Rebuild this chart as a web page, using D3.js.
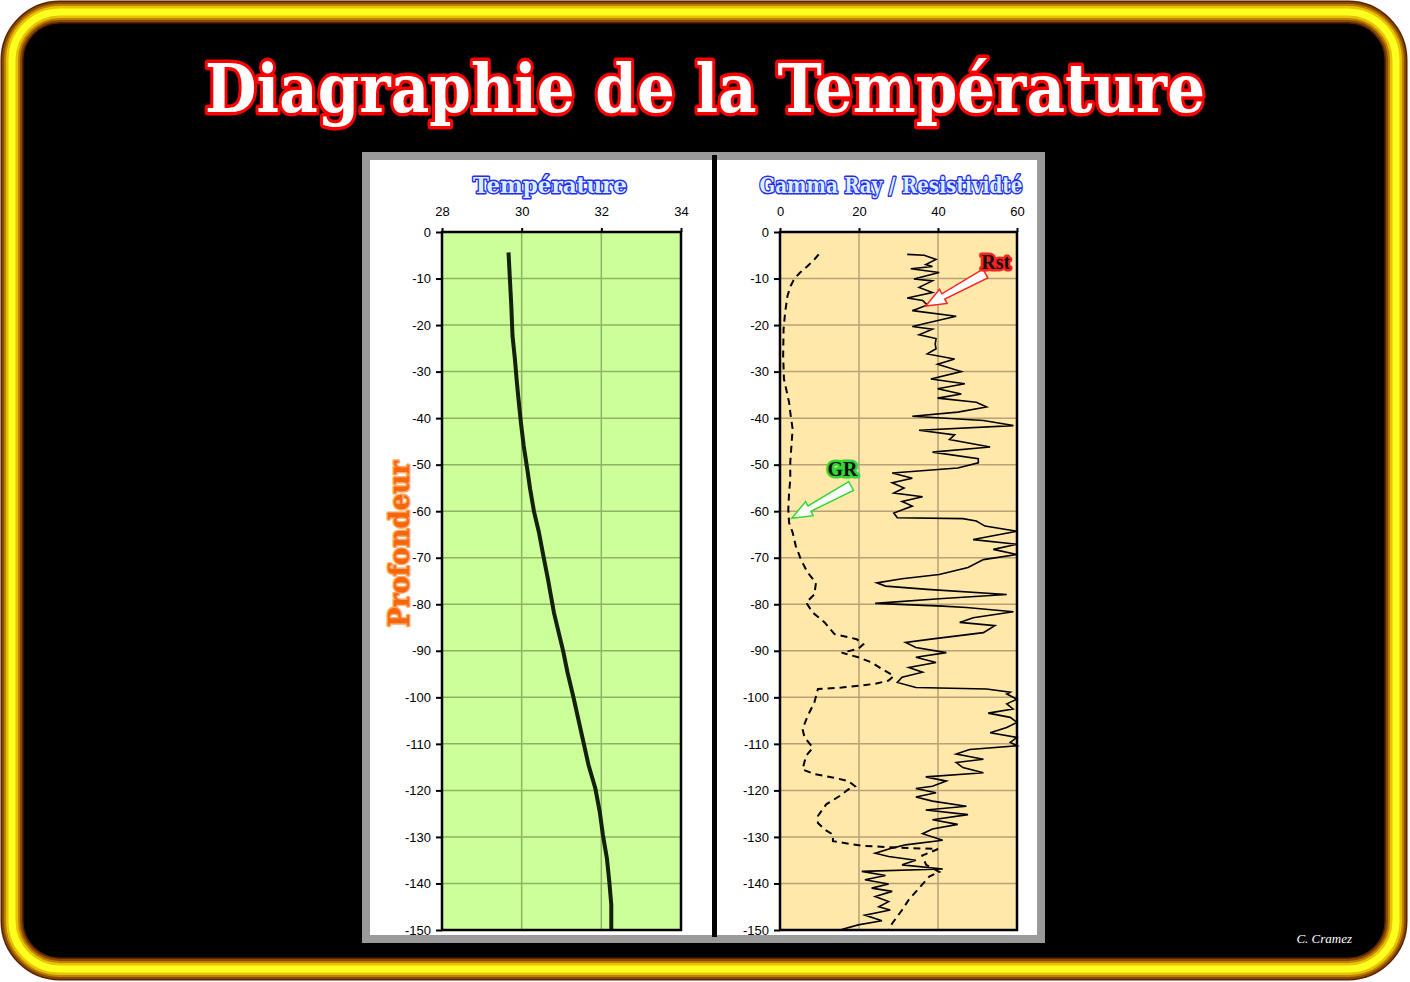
<!DOCTYPE html>
<html>
<head>
<meta charset="utf-8">
<script src="https://cdn.jsdelivr.net/npm/d3@7"></script>
<style>
  body { margin: 0; background: #fff; }
  svg { display: block; }
</style>
</head>
<body>
<svg width="1410" height="982"></svg>
<script>
// temperature log (depth m, temperature C)
var tempDepth = [-4.4, -9.4, -15.9, -22.3, -27.3, -32.3, -35.9, -40.9, -45.9, -50.9, -55.1, -60.1, -64.4, -69.4,
  -74.6, -77.5, -81.8, -86.1, -90, -94.6, -100, -104.6, -109.6, -114.6, -119.6, -124.6, -129.6, -134.6,
  -139.6, -144.6, -149.8];
var tempValue = [29.67, 29.70, 29.74, 29.77, 29.83, 29.88, 29.92, 29.98, 30.05, 30.14, 30.21, 30.31, 30.43, 30.54,
  30.66, 30.72, 30.81, 30.93, 31.04, 31.15, 31.30, 31.42, 31.55, 31.68, 31.85, 31.96, 32.04, 32.14,
  32.20, 32.25, 32.25];

// resistivity log
var rstDepth = [-4.8, -5.0, -5.9, -7.0, -7.4, -7.9, -8.7, -10.1, -10.5, -11.9, -13.0, -14.2, -14.7, -15.7, -16.9,
  -18.1, -19.3, -20.3, -20.9, -22.1, -22.9, -24.1, -25.1, -26.2, -27.3, -28.4, -30.0, -31.6, -32.6, -33.7,
  -34.8, -35.7, -36.6, -37.6, -38.7, -39.6, -40.5, -41.6, -42.6, -43.6, -44.6, -46.2, -47.3, -48.7, -49.6,
  -50.7, -51.8, -52.9, -53.9, -55.0, -56.1, -56.9, -57.9, -58.9, -60.4, -61.4, -61.6, -62.1, -63.2, -64.3,
  -66.1, -67.1, -68.2, -69.3, -70.4, -72.1, -73.6, -74.5, -75.4, -76.1, -76.8, -77.9, -78.8, -79.8, -80.4,
  -80.7, -81.6, -82.9, -83.9, -84.6, -86.1, -87.5, -88.2, -89.3, -90.4, -91.4, -92.5, -93.6, -94.6, -95.7,
  -96.8, -97.9, -98.2, -98.9, -99.3, -100.4, -101.4, -102.5, -103.4, -104.3, -105.4, -106.5, -107.6, -108.6,
  -109.7, -110.4, -111.2, -112.2, -113.3, -114.0, -115.1, -116.2, -117.1, -118.0, -119.1, -119.6, -120.5,
  -121.4, -122.3, -123.4, -124.2, -125.2, -126.3, -127.3, -128.3, -129.3, -130.7, -131.7, -132.4, -133.5,
  -134.2, -135.0, -136.0, -136.9, -137.4, -138.3, -139.2, -140.1, -141.0, -141.7, -142.8, -143.9, -145.0,
  -145.7, -146.8, -148.0, -148.9, -149.9];
var rstValue = [32.2, 36.5, 39.5, 36.9, 38.6, 33.1, 40.3, 33.9, 38.6, 35.2, 38.6, 32.2, 36.1, 37.3, 33.5,
  44.6, 38.6, 33.5, 38.6, 35.2, 39.5, 39.3, 39.5, 37.3, 44.2, 39.9, 45.9, 38.2, 46.8, 39.9,
  45.9, 39.9, 49.7, 52.3, 45.0, 33.5, 51.5, 59.1, 35.2, 44.2, 42.9, 53.2, 38.6, 50.2, 50.2,
  45.0, 28.4, 33.5, 28.4, 31.4, 28.8, 36.1, 30.9, 33.5, 28.8, 29.7, 46.3, 49.7, 51.9, 60.0,
  48.9, 60.0, 54.0, 60.0, 51.5, 47.6, 40.3, 30.9, 24.5, 26.7, 37.3, 57.4, 40.3, 24.1, 41.2,
  47.2, 59.1, 48.9, 45.5, 54.4, 51.5, 38.2, 31.8, 34.4, 42.1, 34.4, 39.5, 32.6, 36.1, 30.9,
  29.7, 34.4, 52.3, 58.3, 57.4, 60.0, 57.4, 59.0, 52.7, 58.3, 60.0, 57.4, 53.2, 60.0,
  58.3, 60.0, 48.0, 44.6, 51.5, 44.6, 46.3, 51.5, 36.9, 42.1, 38.6, 34.4, 39.5,
  34.4, 38.6, 47.2, 36.9, 47.6, 38.6, 45.0, 38.6, 36.1, 41.2, 31.8, 28.4, 24.1,
  27.5, 34.4, 30.9, 41.2, 20.7, 26.7, 21.5, 27.5, 23.2, 28.4, 24.1, 27.5, 25.0,
  27.9, 21.5, 25.8, 19.8, 15.6];

// gamma ray log
var grDepth = [-4.8, -5.9, -7.3, -8.7, -10.1, -11.6, -13.7, -17.3, -20.9, -26.6, -31.6, -36.6, -39.4, -42.3,
  -45.9, -49.4, -53.2, -56.1, -59.6, -62.5, -64.6, -67.5, -70.4, -73.2, -75.4, -77.9, -79.6, -81.8, -83.9,
  -86.4, -87.5, -88.6, -89.6, -90.4, -91.4, -92.5, -93.9, -95.4, -96.4, -97.1, -97.9, -98.2, -101.1, -104.0,
  -106.8, -108.6, -110.8, -112.6, -115.5, -116.5, -117.3, -118.0, -119.1, -119.8, -121.2, -123.0, -125.5,
  -127.0, -128.4, -129.5, -130.9, -131.9, -132.3, -132.6, -134.0, -136.0, -137.5, -138.5, -141.0, -143.5,
  -145.7, -148.6, -149.9];
var grValue = [9.8, 8.7, 7.0, 5.1, 3.6, 2.7, 1.9, 1.3, 0.9, 0.8, 1.0, 2.3, 2.7, 3.2,
  2.9, 2.6, 2.6, 2.3, 2.1, 2.3, 3.2, 4.0, 5.3, 7.0, 9.1, 8.7, 6.6, 8.3, 11.3,
  13.8, 19.4, 21.1, 19.8, 15.6, 19.8, 23.2, 25.8, 28.8, 27.5, 24.1, 15.6, 9.6, 8.7, 7.0,
  5.7, 6.2, 8.3, 6.6, 5.7, 8.7, 13.8, 17.3, 19.0, 17.3, 15.1, 11.7, 9.6,
  9.6, 11.3, 13.4, 13.4, 20.7, 30.0, 40.0, 36.0, 37.0, 40.3, 37.8, 35.2, 32.6,
  30.9, 28.4, 27.5];

var tempTicks = [28, 30, 32, 34];
var logTicks = [0, 20, 40, 60];
var depthTicks = [0, -10, -20, -30, -40, -50, -60, -70, -80, -90, -100, -110, -120, -130, -140, -150];

var svg = d3.select("svg");

// ---- frame
var defs = svg.append("defs");
var rings = [
  {w: 23, c: "#5a2400"}, {w: 20, c: "#8a4a00"}, {w: 16, c: "#c08000"},
  {w: 12, c: "#e8c400"}, {w: 7, c: "#ffff20"}
];
svg.append("rect")
    .attr("x", 12).attr("y", 12).attr("width", 1384).attr("height", 957)
    .attr("rx", 48).attr("fill", "#000");
rings.forEach(function(r) {
  svg.append("rect")
      .attr("x", 12).attr("y", 12).attr("width", 1384).attr("height", 957)
      .attr("rx", 48).attr("fill", "none")
      .attr("stroke", r.c).attr("stroke-width", r.w);
});

svg.append("text")
    .attr("x", 705).attr("y", 112)
    .attr("text-anchor", "middle")
    .attr("font-family", "DejaVu Serif")
    .attr("font-weight", "bold")
    .attr("font-size", 68)
    .attr("textLength", 1000)
    .attr("lengthAdjust", "spacingAndGlyphs")
    .attr("fill", "#fff")
    .attr("stroke", "#ff0000")
    .attr("stroke-width", 7)
    .attr("stroke-linejoin", "round")
    .attr("paint-order", "stroke")
    .text("Diagraphie de la Température");

svg.append("text")
    .attr("x", 1352).attr("y", 943)
    .attr("text-anchor", "end")
    .attr("font-family", "Liberation Serif")
    .attr("font-style", "italic")
    .attr("font-size", 13)
    .attr("fill", "#fff")
    .text("C. Cramez");

// ---- chart panel
svg.append("rect")
    .attr("x", 366).attr("y", 156).attr("width", 675).attr("height", 783)
    .attr("fill", "#fff").attr("stroke", "#9a9a9a").attr("stroke-width", 8);
svg.append("rect")
    .attr("x", 712).attr("y", 155).attr("width", 5).attr("height", 782)
    .attr("fill", "#000");

var y = d3.scaleLinear().domain([0, -150]).range([232, 930]);
var xT = d3.scaleLinear().domain([28, 34]).range([442, 681]);
var xR = d3.scaleLinear().domain([0, 60]).range([780, 1017]);

function track(x, ticks, gridX, bg, gridColor) {
  var g = svg.append("g");
  g.append("rect")
      .attr("x", x.range()[0]).attr("y", y.range()[0])
      .attr("width", x.range()[1] - x.range()[0])
      .attr("height", y.range()[1] - y.range()[0])
      .attr("fill", bg);
  g.selectAll(".hgrid")
    .data(depthTicks.slice(1, -1))
    .enter().append("line")
      .attr("x1", x.range()[0]).attr("x2", x.range()[1])
      .attr("y1", function(d) { return y(d); })
      .attr("y2", function(d) { return y(d); })
      .attr("stroke", gridColor).attr("stroke-width", 1.5);
  g.selectAll(".vgrid")
    .data(gridX)
    .enter().append("line")
      .attr("x1", function(d) { return x(d); })
      .attr("x2", function(d) { return x(d); })
      .attr("y1", y.range()[0]).attr("y2", y.range()[1])
      .attr("stroke", gridColor).attr("stroke-width", 1.5);

  var top = g.append("g")
      .attr("transform", "translate(0," + y.range()[0] + ")")
      .call(d3.axisTop(x).tickValues(ticks).tickSize(4).tickPadding(12).tickFormat(d3.format("d")));
  var left = g.append("g")
      .attr("transform", "translate(" + x.range()[0] + ",0)")
      .call(d3.axisLeft(y).tickValues(depthTicks).tickSize(6).tickPadding(5)
        .tickFormat(function(d) { return String(d); }));
  [top, left].forEach(function(a) {
    a.selectAll("text")
        .attr("font-family", "Liberation Sans")
        .attr("font-size", 13)
        .attr("fill", "#000");
    a.selectAll("line").attr("stroke", "#000").attr("stroke-width", 2);
    a.select(".domain").attr("stroke", "none");
  });
  return g;
}

function frameTrack(x) {
  svg.append("rect")
      .attr("x", x.range()[0]).attr("y", y.range()[0])
      .attr("width", x.range()[1] - x.range()[0])
      .attr("height", y.range()[1] - y.range()[0])
      .attr("fill", "none").attr("stroke", "#000").attr("stroke-width", 2.5);
}

track(xT, tempTicks, [30, 32], "#ccff99", "#8fb264");
track(xR, logTicks, [20, 40], "#ffe8aa", "#b8a275");

var tempLine = d3.line()
    .x(function(d, i) { return xT(tempValue[i]); })
    .y(function(d) { return y(d); });
svg.append("path")
    .attr("d", tempLine(tempDepth))
    .attr("fill", "none")
    .attr("stroke", "#13200c")
    .attr("stroke-width", 4);

var rstLine = d3.line()
    .x(function(d, i) { return xR(rstValue[i]); })
    .y(function(d) { return y(d); });
svg.append("path")
    .attr("d", rstLine(rstDepth))
    .attr("fill", "none")
    .attr("stroke", "#000")
    .attr("stroke-width", 1.6);

var grLine = d3.line()
    .x(function(d, i) { return xR(grValue[i]); })
    .y(function(d) { return y(d); });
svg.append("path")
    .attr("d", grLine(grDepth))
    .attr("fill", "none")
    .attr("stroke", "#000")
    .attr("stroke-width", 2)
    .attr("stroke-dasharray", "7,5");

frameTrack(xT);
frameTrack(xR);

// ---- track titles
function fancyTitle(x, yy, txt, len, size, fill, stroke, rot) {
  svg.append("text")
      .attr("transform", "translate(" + x + "," + yy + ")" + (rot ? " rotate(-90)" : ""))
      .attr("text-anchor", "middle")
      .attr("font-family", "DejaVu Serif")
      .attr("font-weight", "bold")
      .attr("font-size", size)
      .attr("textLength", len)
      .attr("lengthAdjust", "spacingAndGlyphs")
      .attr("fill", fill)
      .attr("stroke", stroke)
      .attr("stroke-width", 3)
      .attr("stroke-linejoin", "round")
      .attr("paint-order", "stroke")
      .text(txt);
}
fancyTitle(550, 193, "Température", 154, 23, "#d4f2ff", "#2b2bee");
fancyTitle(891, 193, "Gamma Ray / Resistividté", 263, 23, "#d4f2ff", "#2b2bee");
fancyTitle(409, 544, "Profondeur", 166, 28, "#f7650c", "#ffa860", true);

// ---- callouts
function callout(label, lv, ld, tailV, tailD, tipV, tipD, color) {
  var t = [xR(tailV), y(tailD)], p = [xR(tipV), y(tipD)];
  var dx = p[0] - t[0], dy = p[1] - t[1], L = Math.sqrt(dx * dx + dy * dy);
  var ux = dx / L, uy = dy / L, nx = -uy, ny = ux;
  var h = [p[0] - ux * 20, p[1] - uy * 20];
  var pts = [
    [t[0] + nx * 5, t[1] + ny * 5], [h[0] + nx * 3, h[1] + ny * 3], [h[0] + nx * 8, h[1] + ny * 8], p,
    [h[0] - nx * 8, h[1] - ny * 8], [h[0] - nx * 3, h[1] - ny * 3], [t[0] - nx * 5, t[1] - ny * 5]
  ];
  svg.append("polygon")
      .attr("points", pts.map(function(q) { return q.join(","); }).join(" "))
      .attr("fill", "#fff").attr("stroke", color).attr("stroke-width", 1.5);
  svg.append("text")
      .attr("x", xR(lv)).attr("y", y(ld))
      .attr("dy", "0.35em")
      .attr("text-anchor", "middle")
      .attr("font-family", "Liberation Serif")
      .attr("font-weight", "bold")
      .attr("font-size", 20)
      .attr("fill", "#111")
      .attr("stroke", color)
      .attr("stroke-width", 5)
      .attr("stroke-linejoin", "round")
      .attr("paint-order", "stroke")
      .text(label);
}
callout("Rst", 54.6, -6.4, 52.0, -8.9, 36.9, -15.9, "#ff2020");
callout("GR", 15.8, -50.9, 18.0, -54.6, 3.0, -61.5, "#33d633");
</script>
</body>
</html>
